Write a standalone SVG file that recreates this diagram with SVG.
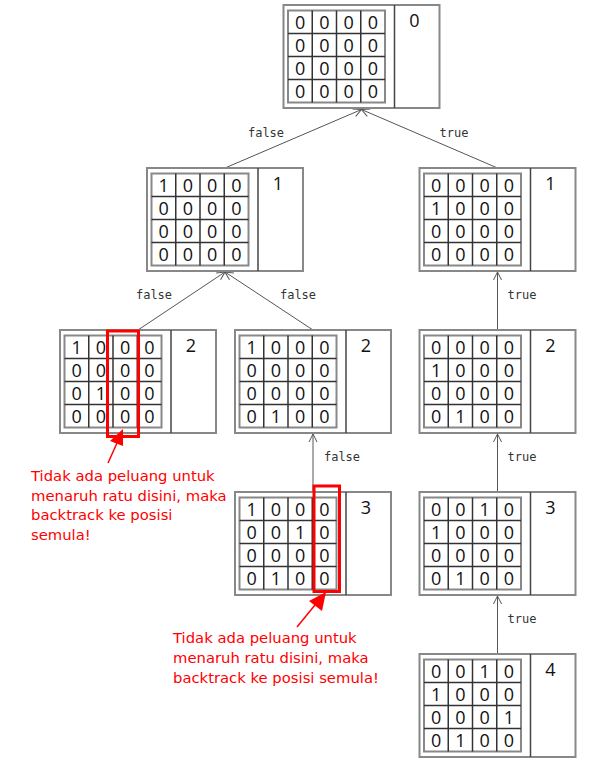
<svg xmlns="http://www.w3.org/2000/svg" width="604" height="761" viewBox="0 0 604 761">
<style>
.outer{fill:#fff;stroke:#888;stroke-width:2}
.div{stroke:#444;stroke-width:1.5}
.gb{fill:none;stroke:#888;stroke-width:2}
.gl{stroke:#333;stroke-width:1.5}
.d{font-family:"Open Sans","Noto Sans",sans-serif;font-size:18px;fill:#111;text-anchor:middle}
.lbl{font-family:"Open Sans","Noto Sans",sans-serif;font-size:18px;fill:#111;text-anchor:middle}
.el{font-family:"DejaVu Sans Mono",monospace;font-size:12px;fill:#333;text-anchor:middle}
.edge{stroke:#555;stroke-width:1;fill:none;marker-end:url(#ah)}
.red{font-family:"DejaVu Sans",sans-serif;font-size:14.8px;fill:#f00}
.rbox{fill:none;stroke:#f00;stroke-width:3}
</style>
<defs>
<marker id="ah" markerWidth="10" markerHeight="10" refX="9" refY="5" orient="auto" markerUnits="userSpaceOnUse">
<path d="M1,1 L9,5 L1,9" fill="none" stroke="#555" stroke-width="1"/>
</marker>
<g id="frame">
<rect class="outer" x="0" y="0" width="156" height="103"/>
<line class="div" x1="111" y1="0" x2="111" y2="103"/>
<rect class="gb" x="4.5" y="5.5" width="97" height="92"/>
<line class="gl" x1="28.75" y1="5.5" x2="28.75" y2="97.5"/>
<line class="gl" x1="53" y1="5.5" x2="53" y2="97.5"/>
<line class="gl" x1="77.25" y1="5.5" x2="77.25" y2="97.5"/>
<line class="gl" x1="4.5" y1="28.5" x2="101.5" y2="28.5"/>
<line class="gl" x1="4.5" y1="51.5" x2="101.5" y2="51.5"/>
<line class="gl" x1="4.5" y1="74.5" x2="101.5" y2="74.5"/>
</g>
</defs>

<g id="connectors">
<line class="edge" x1="225" y1="168" x2="361.5" y2="109.5"/>
<line class="edge" x1="497.5" y1="168" x2="361.5" y2="109.5"/>
<line class="edge" x1="138" y1="330" x2="225" y2="272"/>
<line class="edge" x1="313" y1="330" x2="225" y2="272"/>
<line class="edge" x1="497.5" y1="330" x2="497.5" y2="272"/>
<line class="edge" x1="313" y1="492" x2="313" y2="434"/>
<line class="edge" x1="497.5" y1="492" x2="497.5" y2="434"/>
<line class="edge" x1="497.5" y1="654" x2="497.5" y2="596"/>
<text class="el" x="266" y="137">false</text>
<text class="el" x="454" y="137">true</text>
<text class="el" x="154" y="299">false</text>
<text class="el" x="298" y="299">false</text>
<text class="el" x="522" y="299">true</text>
<text class="el" x="342" y="461">false</text>
<text class="el" x="522" y="461">true</text>
<text class="el" x="522" y="623">true</text>
</g>

<g id="n0" transform="translate(283.5,5)">
<use href="#frame"/>
<text class="lbl" x="131" y="22">0</text>
<text class="d"><tspan x="16.6" y="23.5">0</tspan><tspan x="40.9" y="23.5">0</tspan><tspan x="65.1" y="23.5">0</tspan><tspan x="89.4" y="23.5">0</tspan></text>
<text class="d"><tspan x="16.6" y="46.5">0</tspan><tspan x="40.9" y="46.5">0</tspan><tspan x="65.1" y="46.5">0</tspan><tspan x="89.4" y="46.5">0</tspan></text>
<text class="d"><tspan x="16.6" y="69.5">0</tspan><tspan x="40.9" y="69.5">0</tspan><tspan x="65.1" y="69.5">0</tspan><tspan x="89.4" y="69.5">0</tspan></text>
<text class="d"><tspan x="16.6" y="92.5">0</tspan><tspan x="40.9" y="92.5">0</tspan><tspan x="65.1" y="92.5">0</tspan><tspan x="89.4" y="92.5">0</tspan></text>
</g>

<g id="nL1" transform="translate(147,168)">
<use href="#frame"/>
<text class="lbl" x="131" y="22">1</text>
<text class="d"><tspan x="16.6" y="23.5">1</tspan><tspan x="40.9" y="23.5">0</tspan><tspan x="65.1" y="23.5">0</tspan><tspan x="89.4" y="23.5">0</tspan></text>
<text class="d"><tspan x="16.6" y="46.5">0</tspan><tspan x="40.9" y="46.5">0</tspan><tspan x="65.1" y="46.5">0</tspan><tspan x="89.4" y="46.5">0</tspan></text>
<text class="d"><tspan x="16.6" y="69.5">0</tspan><tspan x="40.9" y="69.5">0</tspan><tspan x="65.1" y="69.5">0</tspan><tspan x="89.4" y="69.5">0</tspan></text>
<text class="d"><tspan x="16.6" y="92.5">0</tspan><tspan x="40.9" y="92.5">0</tspan><tspan x="65.1" y="92.5">0</tspan><tspan x="89.4" y="92.5">0</tspan></text>
</g>

<g id="nR1" transform="translate(419.5,168)">
<use href="#frame"/>
<text class="lbl" x="131" y="22">1</text>
<text class="d"><tspan x="16.6" y="23.5">0</tspan><tspan x="40.9" y="23.5">0</tspan><tspan x="65.1" y="23.5">0</tspan><tspan x="89.4" y="23.5">0</tspan></text>
<text class="d"><tspan x="16.6" y="46.5">1</tspan><tspan x="40.9" y="46.5">0</tspan><tspan x="65.1" y="46.5">0</tspan><tspan x="89.4" y="46.5">0</tspan></text>
<text class="d"><tspan x="16.6" y="69.5">0</tspan><tspan x="40.9" y="69.5">0</tspan><tspan x="65.1" y="69.5">0</tspan><tspan x="89.4" y="69.5">0</tspan></text>
<text class="d"><tspan x="16.6" y="92.5">0</tspan><tspan x="40.9" y="92.5">0</tspan><tspan x="65.1" y="92.5">0</tspan><tspan x="89.4" y="92.5">0</tspan></text>
</g>

<g id="nL2a" transform="translate(60,330)">
<use href="#frame"/>
<text class="lbl" x="131" y="22">2</text>
<text class="d"><tspan x="16.6" y="23.5">1</tspan><tspan x="40.9" y="23.5">0</tspan><tspan x="65.1" y="23.5">0</tspan><tspan x="89.4" y="23.5">0</tspan></text>
<text class="d"><tspan x="16.6" y="46.5">0</tspan><tspan x="40.9" y="46.5">0</tspan><tspan x="65.1" y="46.5">0</tspan><tspan x="89.4" y="46.5">0</tspan></text>
<text class="d"><tspan x="16.6" y="69.5">0</tspan><tspan x="40.9" y="69.5">1</tspan><tspan x="65.1" y="69.5">0</tspan><tspan x="89.4" y="69.5">0</tspan></text>
<text class="d"><tspan x="16.6" y="92.5">0</tspan><tspan x="40.9" y="92.5">0</tspan><tspan x="65.1" y="92.5">0</tspan><tspan x="89.4" y="92.5">0</tspan></text>
</g>

<g id="nL2b" transform="translate(235,330)">
<use href="#frame"/>
<text class="lbl" x="131" y="22">2</text>
<text class="d"><tspan x="16.6" y="23.5">1</tspan><tspan x="40.9" y="23.5">0</tspan><tspan x="65.1" y="23.5">0</tspan><tspan x="89.4" y="23.5">0</tspan></text>
<text class="d"><tspan x="16.6" y="46.5">0</tspan><tspan x="40.9" y="46.5">0</tspan><tspan x="65.1" y="46.5">0</tspan><tspan x="89.4" y="46.5">0</tspan></text>
<text class="d"><tspan x="16.6" y="69.5">0</tspan><tspan x="40.9" y="69.5">0</tspan><tspan x="65.1" y="69.5">0</tspan><tspan x="89.4" y="69.5">0</tspan></text>
<text class="d"><tspan x="16.6" y="92.5">0</tspan><tspan x="40.9" y="92.5">1</tspan><tspan x="65.1" y="92.5">0</tspan><tspan x="89.4" y="92.5">0</tspan></text>
</g>

<g id="nR2" transform="translate(419.5,330)">
<use href="#frame"/>
<text class="lbl" x="131" y="22">2</text>
<text class="d"><tspan x="16.6" y="23.5">0</tspan><tspan x="40.9" y="23.5">0</tspan><tspan x="65.1" y="23.5">0</tspan><tspan x="89.4" y="23.5">0</tspan></text>
<text class="d"><tspan x="16.6" y="46.5">1</tspan><tspan x="40.9" y="46.5">0</tspan><tspan x="65.1" y="46.5">0</tspan><tspan x="89.4" y="46.5">0</tspan></text>
<text class="d"><tspan x="16.6" y="69.5">0</tspan><tspan x="40.9" y="69.5">0</tspan><tspan x="65.1" y="69.5">0</tspan><tspan x="89.4" y="69.5">0</tspan></text>
<text class="d"><tspan x="16.6" y="92.5">0</tspan><tspan x="40.9" y="92.5">1</tspan><tspan x="65.1" y="92.5">0</tspan><tspan x="89.4" y="92.5">0</tspan></text>
</g>

<g id="nL3" transform="translate(235,492)">
<use href="#frame"/>
<text class="lbl" x="131" y="22">3</text>
<text class="d"><tspan x="16.6" y="23.5">1</tspan><tspan x="40.9" y="23.5">0</tspan><tspan x="65.1" y="23.5">0</tspan><tspan x="89.4" y="23.5">0</tspan></text>
<text class="d"><tspan x="16.6" y="46.5">0</tspan><tspan x="40.9" y="46.5">0</tspan><tspan x="65.1" y="46.5">1</tspan><tspan x="89.4" y="46.5">0</tspan></text>
<text class="d"><tspan x="16.6" y="69.5">0</tspan><tspan x="40.9" y="69.5">0</tspan><tspan x="65.1" y="69.5">0</tspan><tspan x="89.4" y="69.5">0</tspan></text>
<text class="d"><tspan x="16.6" y="92.5">0</tspan><tspan x="40.9" y="92.5">1</tspan><tspan x="65.1" y="92.5">0</tspan><tspan x="89.4" y="92.5">0</tspan></text>
</g>

<g id="nR3" transform="translate(419.5,492)">
<use href="#frame"/>
<text class="lbl" x="131" y="22">3</text>
<text class="d"><tspan x="16.6" y="23.5">0</tspan><tspan x="40.9" y="23.5">0</tspan><tspan x="65.1" y="23.5">1</tspan><tspan x="89.4" y="23.5">0</tspan></text>
<text class="d"><tspan x="16.6" y="46.5">1</tspan><tspan x="40.9" y="46.5">0</tspan><tspan x="65.1" y="46.5">0</tspan><tspan x="89.4" y="46.5">0</tspan></text>
<text class="d"><tspan x="16.6" y="69.5">0</tspan><tspan x="40.9" y="69.5">0</tspan><tspan x="65.1" y="69.5">0</tspan><tspan x="89.4" y="69.5">0</tspan></text>
<text class="d"><tspan x="16.6" y="92.5">0</tspan><tspan x="40.9" y="92.5">1</tspan><tspan x="65.1" y="92.5">0</tspan><tspan x="89.4" y="92.5">0</tspan></text>
</g>

<g id="nR4" transform="translate(419.5,654)">
<use href="#frame"/>
<text class="lbl" x="131" y="22">4</text>
<text class="d"><tspan x="16.6" y="23.5">0</tspan><tspan x="40.9" y="23.5">0</tspan><tspan x="65.1" y="23.5">1</tspan><tspan x="89.4" y="23.5">0</tspan></text>
<text class="d"><tspan x="16.6" y="46.5">1</tspan><tspan x="40.9" y="46.5">0</tspan><tspan x="65.1" y="46.5">0</tspan><tspan x="89.4" y="46.5">0</tspan></text>
<text class="d"><tspan x="16.6" y="69.5">0</tspan><tspan x="40.9" y="69.5">0</tspan><tspan x="65.1" y="69.5">0</tspan><tspan x="89.4" y="69.5">1</tspan></text>
<text class="d"><tspan x="16.6" y="92.5">0</tspan><tspan x="40.9" y="92.5">1</tspan><tspan x="65.1" y="92.5">0</tspan><tspan x="89.4" y="92.5">0</tspan></text>
</g>

<g id="note1">
<rect class="rbox" x="107.5" y="331" width="31" height="105.5"/>
<line x1="108" y1="463" x2="117" y2="443" stroke="#f00" stroke-width="1.5"/>
<polygon points="123,429 110,441 123,446" fill="#f00"/>
<text class="red"><tspan x="31" y="481">Tidak ada peluang untuk</tspan><tspan x="31" y="500.5">menaruh ratu disini, maka</tspan><tspan x="31" y="520">backtrack ke posisi</tspan><tspan x="31" y="539.5">semula!</tspan></text>
</g>

<g id="note2">
<rect class="rbox" x="314" y="486" width="25.5" height="105.5"/>
<line x1="297" y1="627" x2="315" y2="605" stroke="#f00" stroke-width="1.5"/>
<polygon points="326,592 309,601 322,611" fill="#f00"/>
<text class="red"><tspan x="173" y="643">Tidak ada peluang untuk</tspan><tspan x="173" y="663">menaruh ratu disini, maka</tspan><tspan x="173" y="683">backtrack ke posisi semula!</tspan></text>
</g>
</svg>
